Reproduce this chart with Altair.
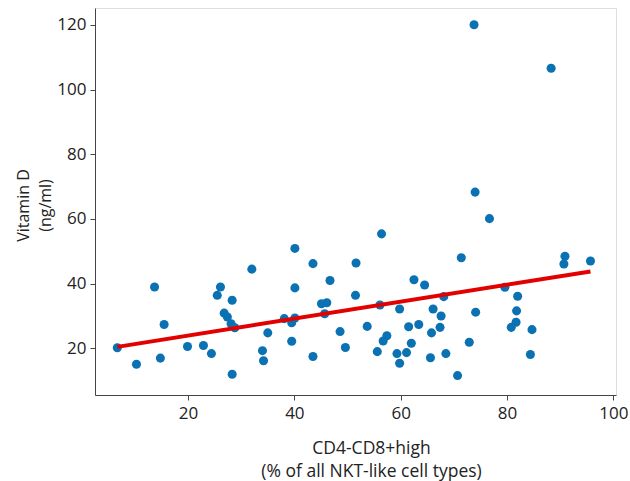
import altair as alt
import pandas as pd

# CD4-CD8+high share (% of NKT-like cells) per donor
nkt_pct = [
    73.8, 88.3, 74.0,
    6.7, 10.3, 13.7, 15.5, 14.8, 19.9, 22.9, 24.4, 26.1, 25.5, 28.3, 26.8,
    27.4, 28.1, 28.8, 28.3, 32.0, 34.0, 34.2, 35.0, 38.1, 39.5, 40.1, 39.5,
    40.1, 40.1, 43.5, 43.5, 46.7, 45.1, 46.1, 45.7, 48.6, 49.6, 51.6, 51.5,
    56.4, 76.7, 71.4, 90.9, 90.7, 95.7, 62.5, 64.5, 68.1, 56.1, 59.8, 66.1,
    67.6, 74.1, 53.7, 61.5, 63.4, 67.4, 65.8, 57.4, 56.7, 62.0, 72.9, 55.6,
    59.3, 61.1, 59.8, 65.6, 68.5, 70.7, 79.6, 82.0, 81.8, 81.7, 80.8, 84.7,
    84.4,
]

# Serum vitamin D (ng/ml) for the same donors
vitamin_d = [
    120.0, 106.6, 68.3,
    20.2, 15.1, 39.0, 27.4, 17.0, 20.6, 20.9, 18.4, 39.0, 36.4, 34.9, 30.9,
    29.7, 27.6, 26.4, 12.0, 44.5, 19.3, 16.2, 24.8, 29.2, 27.9, 29.4, 22.2,
    50.9, 38.7, 46.2, 17.5, 41.0, 33.8, 34.1, 30.7, 25.2, 20.3, 46.4, 36.4,
    55.4, 60.1, 48.0, 48.5, 46.1, 47.0, 41.2, 39.6, 36.0, 33.4, 32.2, 32.2,
    30.0, 31.2, 26.8, 26.7, 27.4, 26.5, 24.8, 23.9, 22.3, 21.6, 21.9, 19.0,
    18.4, 18.7, 15.4, 17.1, 18.4, 11.6, 38.9, 36.1, 31.6, 28.1, 26.5, 25.8,
    18.1,
]

df = pd.DataFrame({"nkt": nkt_pct, "vitd": vitamin_d})

FONT = "Open Sans"
FRAME = "#444444"
TEXT = "#222222"

x_enc = alt.X(
    "nkt:Q",
    scale=alt.Scale(domain=[2.5, 100.5], nice=False, zero=False),
    axis=alt.Axis(
        values=[20, 40, 60, 80, 100],
        title=["CD4-CD8+high", "(% of all NKT-like cell types)"],
        titleFontSize=17.5, titleFontWeight="normal", titleColor=TEXT,
        titlePadding=18, titleLineHeight=23, titleX=276,
        labelFontSize=17, labelColor=TEXT, labelPadding=5,
        tickSize=5, tickColor=FRAME, domainColor=FRAME, grid=False,
    ),
)
y_enc = alt.Y(
    "vitd:Q",
    scale=alt.Scale(domain=[5.6, 125.2], nice=False, zero=False),
    axis=alt.Axis(
        values=[20, 40, 60, 80, 100, 120],
        title=["Vitamin D", "(ng/ml)"],
        titleFontSize=16, titleFontWeight="normal", titleColor=TEXT,
        titleLineHeight=22, titleX=-64, titleY=197,
        labelFontSize=17, labelColor=TEXT, labelPadding=4,
        tickSize=5, tickColor=FRAME, domainColor=FRAME, grid=False,
    ),
)

points = alt.Chart(df).mark_circle(size=82, opacity=1, color="#0a72b3").encode(
    x=x_enc, y=y_enc
)

fit = (
    alt.Chart(df)
    .transform_regression("nkt", "vitd")
    .mark_line(color="#e30000", strokeWidth=4)
    .encode(x="nkt:Q", y="vitd:Q")
)

chart = (
    alt.layer(points, fit)
    .properties(
        width=521,
        height=387,
        autosize=alt.AutoSizeParams(type="none"),
        padding={"left": 95, "top": 8, "right": 14, "bottom": 86},
    )
    .configure_view(stroke=FRAME, strokeWidth=1.2)
    .configure(font=FONT)
)

chart.save("out.html", embed_options={"renderer": "svg", "actions": False})
